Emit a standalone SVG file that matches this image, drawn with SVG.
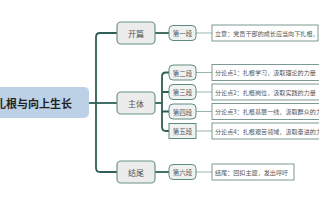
<svg xmlns="http://www.w3.org/2000/svg" width="319" height="200" viewBox="0 0 319 200">
<style>
.t{font-family:"Noto Sans CJK SC","Noto Sans",sans-serif;}
.l1 rect{fill:#ececec;stroke:#6a938a;stroke-width:1.2;}
.l1 text{font-size:8px;fill:#555;text-anchor:middle;dominant-baseline:central;}
.l2 rect{fill:#f0f2f1;stroke:#5e8b81;stroke-width:1;}
.l2 text{font-size:6.5px;fill:#555;text-anchor:middle;dominant-baseline:central;}
.tx rect{fill:#fff;stroke:#6f8f88;stroke-width:0.9;}
.tx text{font-size:6.1px;fill:#555;dominant-baseline:central;}
.trunk{fill:none;stroke:#2f5f56;stroke-width:1.8;}
.thin{fill:none;stroke:#9bb3ad;stroke-width:1;}
</style>
<rect width="319" height="200" fill="#fff"/>
<g id="connectors">
<path class="trunk" d="M89,103 H117"/>
<path class="trunk" d="M117,33 H100 Q96,33 96,37 V168 Q96,172 100,172 H117"/>
<path class="trunk" d="M155,33 H169"/>
<path class="trunk" d="M155,172 H169"/>
<path class="trunk" d="M155,103 H162"/>
<path class="trunk" d="M170,72.5 H166 Q162,72.5 162,76.5 V127 Q162,131 166,131 H170"/>
<path class="trunk" d="M162,92 H170 M162,111.5 H170"/>
<path class="thin" d="M196,33 H212 M196,72.5 H212 M196,92 H212 M196,111.5 H212 M196,131 H212 M196,172 H212"/>
</g>
<g id="root">
<rect x="-60" y="87" width="149" height="31" rx="5" fill="#bcd0e6"/>
<text class="t" x="72" y="103" font-size="11" font-weight="bold" fill="#222" text-anchor="end" dominant-baseline="central">扎根与向上生长</text>
</g>
<g id="kaipian" class="l1 t"><rect x="117" y="22" width="38" height="22" rx="4"/><text x="136" y="33">开篇</text></g>
<g id="zhuti" class="l1 t"><rect x="117" y="92" width="38" height="22" rx="4"/><text x="136" y="103">主体</text></g>
<g id="jiewei" class="l1 t"><rect x="117" y="161" width="38" height="22" rx="4"/><text x="136" y="172">结尾</text></g>
<g id="d1" class="l2 t"><rect x="169" y="25.5" width="27" height="15" rx="4"/><text x="182.5" y="33">第一段</text></g>
<g id="d2" class="l2 t"><rect x="169" y="65" width="27" height="15" rx="4"/><text x="182.5" y="72.5">第二段</text></g>
<g id="d3" class="l2 t"><rect x="169" y="84.5" width="27" height="15" rx="4"/><text x="182.5" y="92">第三段</text></g>
<g id="d4" class="l2 t"><rect x="169" y="104" width="27" height="15" rx="4"/><text x="182.5" y="111.5">第四段</text></g>
<g id="d5" class="l2 t"><rect x="169" y="123.5" width="27" height="15" rx="0"/><text x="182.5" y="131">第五段</text></g>
<g id="d6" class="l2 t"><rect x="169" y="164.5" width="27" height="15" rx="4"/><text x="182.5" y="172">第六段</text></g>
<g id="x1" class="tx t"><rect x="212" y="25" width="106" height="16"/><text x="215" y="33">立意：党员干部的成长应当向下扎根，</text></g>
<g id="x2" class="tx t"><rect x="212" y="64.5" width="120" height="16"/><text x="215" y="72.5">分论点1：扎根学习，汲取理论的力量</text></g>
<g id="x3" class="tx t"><rect x="212" y="84" width="120" height="16"/><text x="215" y="92">分论点2：扎根岗位，汲取实践的力量</text></g>
<g id="x4" class="tx t"><rect x="212" y="103.5" width="120" height="16"/><text x="215" y="111.5">分论点3：扎根基层一线，汲取群众的力量</text></g>
<g id="x5" class="tx t"><rect x="212" y="123" width="120" height="16"/><text x="215" y="131">分论点4：扎根艰苦领域，汲取奋进的力量</text></g>
<g id="x6" class="tx t"><rect x="212" y="164" width="82" height="16"/><text x="215" y="172">结尾：回扣主题，发出呼吁</text></g>
</svg>
